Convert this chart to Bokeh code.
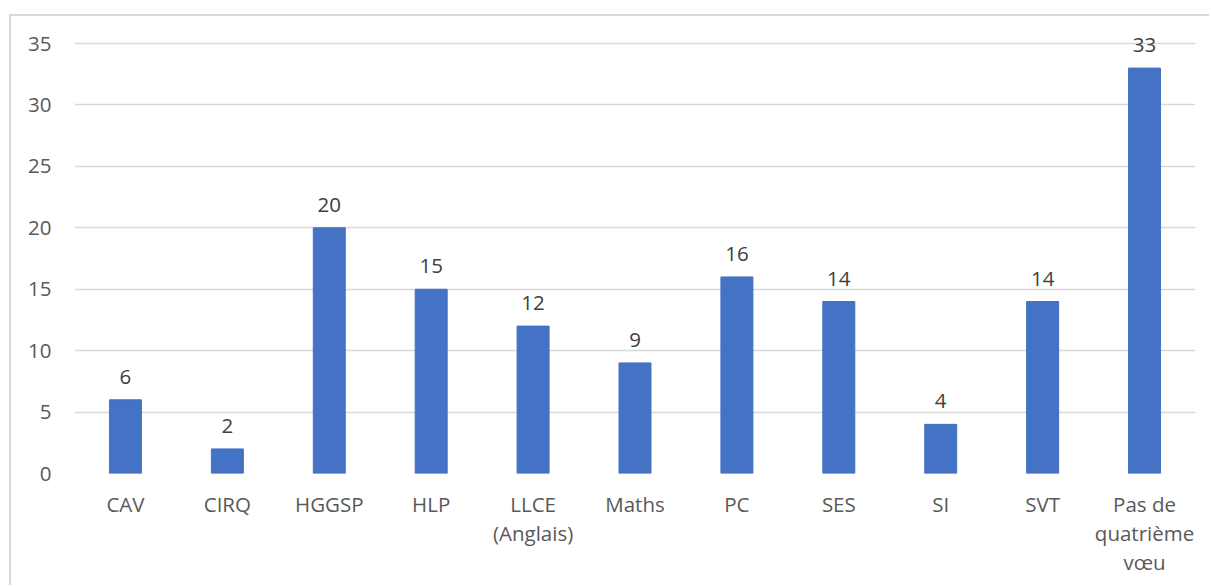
from bokeh.plotting import figure
from bokeh.models import (ColumnDataSource, FactorRange, Range1d, FixedTicker,
                          CategoricalAxis, LabelSet, CustomJSTickFormatter)
from bokeh.core.properties import value
from bokeh.embed import file_html
from bokeh.resources import INLINE

# Quatrième vœu de spécialité : nombre d'élèves par choix
categories = ["CAV", "CIRQ", "HGGSP", "HLP", "LLCE (Anglais)", "Maths",
              "PC", "SES", "SI", "SVT", "Pas de quatrième vœu"]
# category labels, broken into lines
label_lines = [
    ["CAV"], ["CIRQ"], ["HGGSP"], ["HLP"], ["LLCE", "(Anglais)"], ["Maths"],
    ["PC"], ["SES"], ["SI"], ["SVT"], ["Pas de", "quatrième", "vœu"],
]
counts = [6, 2, 20, 15, 12, 9, 16, 14, 4, 14, 33]
y_ticks = [0, 5, 10, 15, 20, 25, 30, 35]

FONT = "Open Sans"
SIZE = "20.5px"
BAR = "#4472C4"
GRID = "#d9d9d9"
AXIS_TEXT = "#595959"

source = ColumnDataSource(data=dict(
    cat=categories,
    n=counts,
    lbl=[str(v) for v in counts],
))

# headroom above 35 keeps the top value label inside the frame
p = figure(
    x_range=FactorRange(*categories, range_padding=0),
    y_range=Range1d(0, 37.2),
    width=1200, height=571,
    output_backend="svg", toolbar_location=None,
    min_border_left=63, min_border_right=16,
    min_border_top=0, min_border_bottom=114,
)
p.styles = {
    "margin-left": "9px", "margin-top": "14px",
    "border-left": f"2px solid {GRID}", "border-top": f"2px solid {GRID}",
}
p.outline_line_color = None
p.background_fill_color = "white"
p.border_fill_color = "white"

p.vbar(x="cat", top="n", width=0.314, source=source,
       fill_color=BAR, line_color=BAR)

p.add_layout(LabelSet(x="cat", y="n", text="lbl", source=source,
                      text_align="center", text_baseline="middle", y_offset=23,
                      text_font=value(FONT), text_font_size=value(SIZE),
                      text_color="#404040"))

# y axis: plain labels, no line or ticks
p.yaxis.ticker = FixedTicker(ticks=y_ticks)
p.yaxis.axis_line_color = None
p.yaxis.major_tick_line_color = None
p.yaxis.minor_tick_line_color = None
p.yaxis.major_tick_out = 0
p.yaxis.major_tick_in = 0
p.yaxis.major_label_standoff = 23
p.yaxis.major_label_text_font = FONT
p.yaxis.major_label_text_font_size = SIZE
p.yaxis.major_label_text_color = AXIS_TEXT

# x axis: one category axis per text line, stacked below the frame
lines_by_cat = dict(zip(categories, label_lines))

def line_formatter(i):
    return CustomJSTickFormatter(
        args=dict(lines=lines_by_cat, idx=i),
        code="const ls = lines[tick] || []; return idx < ls.length ? ls[idx] : '';",
    )

def style_x(ax, standoff):
    ax.axis_line_color = None
    ax.major_tick_line_color = None
    ax.major_tick_out = 0
    ax.major_tick_in = 0
    ax.major_label_standoff = standoff
    ax.major_label_text_font = FONT
    ax.major_label_text_font_size = SIZE
    ax.major_label_text_color = AXIS_TEXT

xa = p.xaxis[0]
xa.formatter = line_formatter(0)
style_x(xa, 16)
for i in (1, 2):
    ax = CategoricalAxis(formatter=line_formatter(i))
    style_x(ax, -2)
    p.add_layout(ax, "below")

p.xgrid.grid_line_color = None
p.ygrid.grid_line_color = GRID
p.ygrid.grid_line_width = 1.5

open("out.html", "w").write(file_html(p, INLINE))
